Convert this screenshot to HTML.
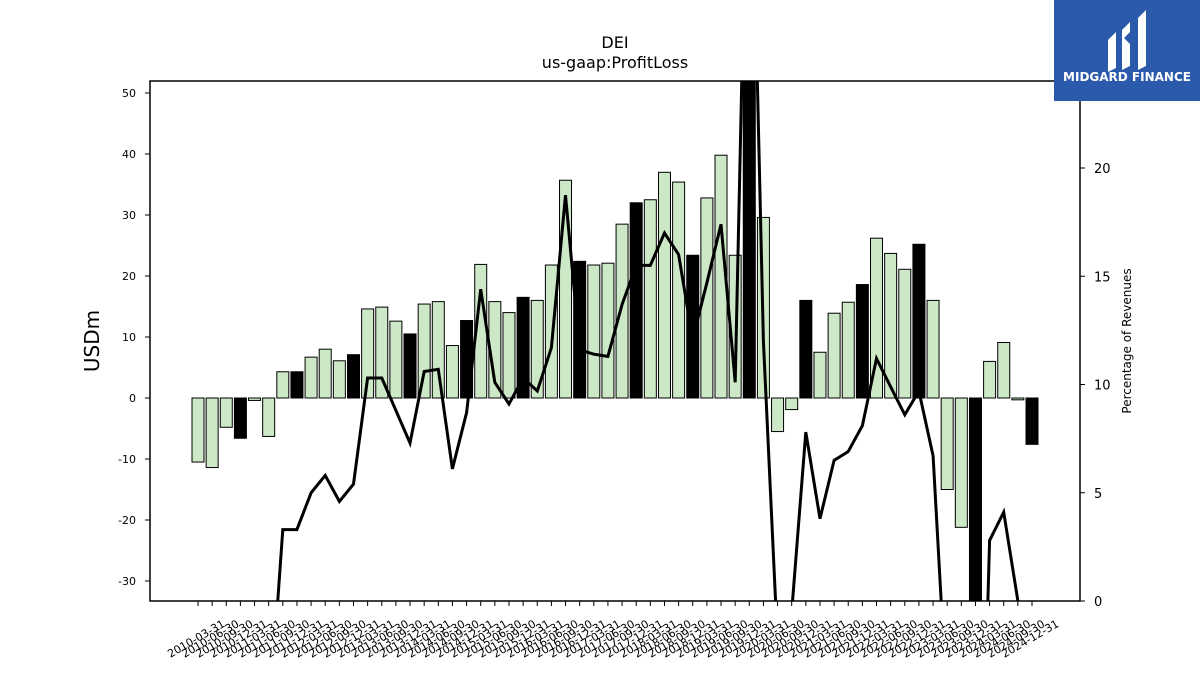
<!DOCTYPE html>
<html><head><meta charset="utf-8"><style>
html,body{margin:0;padding:0;background:#fff;overflow:hidden;width:1200px;height:675px;}
svg{display:block;font-family:"DejaVu Sans","Liberation Sans",sans-serif;}
</style></head><body>
<svg id="chart" width="1200" height="675" viewBox="0 0 1200 675" xmlns="http://www.w3.org/2000/svg">
<defs><clipPath id="plotclip"><rect x="150" y="81" width="930" height="520"/></clipPath></defs>
<text x="615" y="48" font-size="16" text-anchor="middle">DEI</text>
<text x="615" y="68" font-size="16" text-anchor="middle">us-gaap:ProfitLoss</text>
<text transform="translate(99,341) rotate(-90)" font-size="20" text-anchor="middle">USDm</text>
<text transform="translate(1131,341) rotate(-90)" font-size="12" text-anchor="middle">Percentage of Revenues</text>
<g id="bars" clip-path="url(#plotclip)"></g>
<g id="line" clip-path="url(#plotclip)"></g>
<g id="axes"></g>
<rect x="150" y="81" width="930" height="520" fill="none" stroke="#000" stroke-width="1.5"/>
<g>
<rect x="1054" y="0" width="146" height="101" fill="#2b5aac"/>
<path d="M1108 40 l8-8 v36 l-8 4z M1122 30 l8-8 v10 l-6 6 6 6 v22 l-8 4z M1138 18 l8-8 v56 l-8 4z" fill="#fff"/>
<text x="1127" y="81" font-size="12" font-weight="bold" fill="#fff" text-anchor="middle">MIDGARD FINANCE</text>
</g>
</svg>
<script>
const values=[-10.5,-11.4,-4.8,-6.6,-0.4,-6.3,4.3,4.3,6.7,8.0,6.1,7.1,14.6,14.9,12.6,10.5,15.4,15.8,8.6,12.7,21.9,15.8,14.0,16.5,16.0,21.8,35.7,22.4,21.8,22.1,28.5,32.0,32.5,37.0,35.4,23.4,32.8,39.8,23.4,80,29.6,-5.5,-1.9,16.0,7.5,13.9,15.7,18.6,26.2,23.7,21.1,25.2,16.0,-15.0,-21.2,-40,6.0,9.1,-0.3,-7.6];
const pct=[-12,-12,-12,-12,-10,-5.9,3.3,3.3,5.0,5.8,4.6,5.4,10.3,10.3,8.8,7.3,10.6,10.7,6.1,8.7,14.4,10.1,9.1,10.3,9.7,11.7,18.75,11.6,11.4,11.3,13.7,15.5,15.5,17.0,16.0,12.1,14.7,17.4,10.1,40,12.0,-2,-0.5,7.8,3.8,6.5,6.9,8.1,11.2,9.9,8.6,9.7,6.7,-5,-10,-20,2.8,4.1,0,null];
const leftTicks=[-30,-20,-10,0,10,20,30,40,50];
const rightTicks=[0,5,10,15,20];
const categories=[];
for(let y=2010;y<=2024;y++){for(const d of ['03-31','06-30','09-30','12-31'])categories.push(y+'-'+d);}
const NS='http://www.w3.org/2000/svg';
const X0=198,DX=(1032-198)/59;
const xs=i=>X0+i*DX;
const yL=v=>398-v*6.1;
const yR=v=>601-v*21.65;
function mk(tag,attrs,parent){const e=document.createElementNS(NS,tag);for(const k in attrs)e.setAttribute(k,attrs[k]);parent.appendChild(e);return e;}
const gb=document.getElementById('bars');
values.forEach((v,i)=>{
  const y0=yL(0),y1=yL(v);
  const r=mk('rect',{x:xs(i)-6,y:Math.min(y0,y1),width:12,height:Math.max(Math.abs(y1-y0),1),fill:(i%4==3)?'#000':'#cce8c7',stroke:'#000','stroke-width':1},gb);
  
  
});
const gl=document.getElementById('line');
let d='';let started=false;
pct.forEach((p,i)=>{if(p===null)return;d+=(started?'L':'M')+xs(i).toFixed(1)+' '+yR(p).toFixed(1)+' ';started=true;});
const pl=mk('path',{d:d,fill:'none',stroke:'#000','stroke-width':3,'stroke-linejoin':'miter'},gl);


const ga=document.getElementById('axes');
leftTicks.forEach(t=>{
  mk('line',{x1:145,x2:150,y1:yL(t),y2:yL(t),stroke:'#000'},ga);
  const tx=mk('text',{x:136,y:yL(t)+4,'font-size':11,'text-anchor':'end'},ga);tx.textContent=t;
  
  
});
rightTicks.forEach(t=>{
  mk('line',{x1:1080,x2:1085,y1:yR(t),y2:yR(t),stroke:'#000'},ga);
  const tx=mk('text',{x:1094,y:yR(t)+5,'font-size':13},ga);tx.textContent=t;
  
  
});
categories.forEach((c,i)=>{
  const x=xs(i);
  mk('line',{x1:x,x2:x,y1:601,y2:606,stroke:'#000'},ga);
  const tx=mk('text',{transform:'translate('+x+',642) rotate(-30)','font-size':11,'text-anchor':'middle'},ga);tx.textContent=c;
  
  
});
</script>
</body></html>
